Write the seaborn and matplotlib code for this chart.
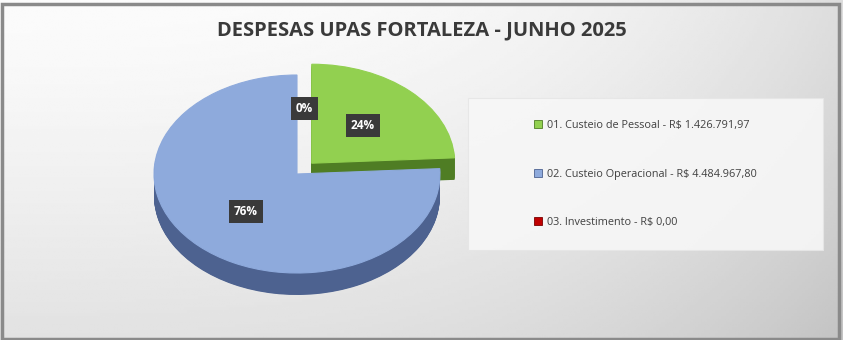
import numpy as np
import matplotlib
matplotlib.use("Agg")
import matplotlib.pyplot as plt
import seaborn as sns
from matplotlib.patches import Rectangle
from matplotlib.lines import Line2D

# ---- data ----
categories = ["01. Custeio de Pessoal", "02. Custeio Operacional", "03. Investimento"]
values = [1426791.97, 4484967.80, 0.00]
value_labels = ["R$ 1.426.791,97", "R$ 4.484.967,80", "R$ 0,00"]
title = "DESPESAS UPAS FORTALEZA - JUNHO 2025"
explode = [0.15, 0.0, 0.0]

top_colors = ["#92d050", "#8eaadc", "#c00000"]
side_colors = ["#4f7d24", "#4d6290", "#7a0000"]

sns.set_theme(style="white")
plt.rcParams["font.family"] = ["Open Sans", "DejaVu Sans"]

W, H = 843, 340
fig = plt.figure(figsize=(W / 100, H / 100), dpi=100)

# background gradient
bg = fig.add_axes([0, 0, 1, 1], zorder=-10)
xx, yy = np.meshgrid(np.linspace(0, 1, 300), np.linspace(0, 1, 120))
v = 0.985 - 0.10 * yy ** 1.3 - 0.12 * xx ** 3
bg.imshow(v, cmap="gray", vmin=0, vmax=1, aspect="auto", extent=[0, 1, 1, 0])
bg.set_xlim(0, 1)
bg.set_ylim(1, 0)
bg.axis("off")
# frame
bg.add_patch(Rectangle((1.5 / W, 1.5 / H), (W - 6) / W, (H - 5) / H,
                       fill=False, ec="#8a8a8a", lw=2.5, transform=bg.transAxes))

# legend box
fig.patches.append(Rectangle((468 / W, 1 - 250 / H), (823 - 468) / W, (250 - 98) / H,
                             transform=fig.transFigure, fc="#f7f7f7", ec="#e6e6e6",
                             lw=0.8, zorder=-5, alpha=0.9))

# pie axes (elliptical via non-equal aspect)
cx, cy, rx, ry = 297, 174, 143, 99
ax = fig.add_axes([(cx - 1.5 * rx) / W, (H - cy - 1.5 * ry) / H, 3 * rx / W, 3 * ry / H])

depth = 22 / ry
for k in np.linspace(depth, 0.01, 40):
    ax.pie(values, explode=explode, startangle=90, counterclock=False,
           colors=side_colors, center=(0, -k), radius=1,
           wedgeprops=dict(linewidth=0))

wedges, texts, autotexts = ax.pie(values, explode=explode, startangle=90,
                                  counterclock=False, colors=top_colors,
                                  center=(0, 0), radius=1, autopct="%.0f%%",
                                  pctdistance=0.52,
                                  wedgeprops=dict(linewidth=0))
for w, val in zip(wedges, values):
    w.set_edgecolor(w.get_facecolor())
    w.set_linewidth(0.8 if val > 0 else 0)
for t in autotexts:
    t.set_color("white")
    t.set_fontweight("bold")
    t.set_fontsize(8.5)
    t.set_bbox(dict(boxstyle="square,pad=0.42", fc="#3a3a3a", ec="none"))
# nudge the zero-slice label up like the reference
x0, y0 = autotexts[2].get_position()
autotexts[2].set_position((x0 + 0.05, y0 + 0.14))

ax.set_aspect("auto")
ax.set_xlim(-1.5, 1.5)
ax.set_ylim(-1.5, 1.5)
ax.axis("off")

# title
fig.text(422 / W, 1 - 30 / H, title, ha="center", va="center",
         fontsize=14.5, fontweight="bold", color="#3a3a3a")

# legend
handles = [Line2D([], [], ls="none", marker="s", markersize=6,
                  markerfacecolor=c, markeredgecolor=s, markeredgewidth=0.6)
           for c, s in zip(top_colors, side_colors)]
labels = [f"{c} - {v}" for c, v in zip(categories, value_labels)]
fig.legend(handles, labels, loc="center left",
           bbox_to_anchor=(533 / W, 1 - 174 / H), frameon=False,
           fontsize=7.8, labelcolor="#404040", labelspacing=3.45,
           handlelength=0.9, handletextpad=0.35, borderpad=0, borderaxespad=0)

fig.savefig("out.png", dpi=100)
